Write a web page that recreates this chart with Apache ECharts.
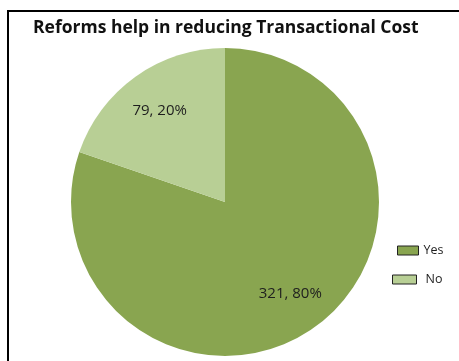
<!DOCTYPE html>
<html>
<head>
<meta charset="utf-8">
<script src="https://cdn.jsdelivr.net/npm/echarts@6/dist/echarts.min.js"></script>
<style>
  html, body { margin: 0; padding: 0; background: #fff; }
  #chart { width: 459px; height: 361px; }
</style>
</head>
<body>
<div id="chart"></div>
<script>
// Survey answers: do reforms help in reducing transactional cost?
const categories = ['Yes', 'No'];
const responses = [321, 79];
const sliceColors = ['#89a550', '#b8cf95'];

const pieData = categories.map((name, i) => ({
  name: name,
  value: responses[i],
  itemStyle: { color: sliceColors[i] }
}));

const textColor = '#1e1e1e';
const font = '"Open Sans", "Liberation Sans", sans-serif';
const center = [225, 202];
const radius = 154;

const chart = echarts.init(document.getElementById('chart'), null, { renderer: 'canvas' });

chart.setOption({
  animation: false,
  backgroundColor: '#ffffff',
  title: {
    text: 'Reforms help in reducing Transactional Cost',
    left: 28,
    top: 14,
    textStyle: { fontFamily: font, fontWeight: 'bold', fontSize: 17.5, color: '#111' }
  },
  legend: [
    {
      data: ['Yes'],
      orient: 'vertical',
      left: 392,
      top: 239,
      itemWidth: 21,
      itemHeight: 9,
      itemGap: 0,
      icon: 'rect',
      itemStyle: { borderColor: '#222', borderWidth: 1 },
      textStyle: { fontFamily: font, fontSize: 12.5, color: textColor, padding: [0, 0, 0, 0] }
    },
    {
      data: ['No'],
      orient: 'vertical',
      left: 387,
      top: 268,
      itemWidth: 24,
      itemHeight: 9,
      itemGap: 0,
      icon: 'rect',
      itemStyle: { borderColor: '#222', borderWidth: 1 },
      textStyle: { fontFamily: font, fontSize: 12.5, color: textColor, padding: [0, 0, 0, 4] }
    }
  ],
  graphic: [
    {
      type: 'polyline',
      shape: { points: [[8, 361], [8, 11], [459, 11]] },
      style: { stroke: '#000', lineWidth: 2, fill: null }
    }
  ],
  series: [
    {
      type: 'pie',
      center: center,
      radius: [0, radius],
      startAngle: 90,
      clockwise: true,
      data: pieData,
      label: { show: false },
      labelLine: { show: false },
      emphasis: { disabled: true }
    },
    {
      // transparent ring carrying the value labels further out from the centre
      type: 'pie',
      center: center,
      radius: [radius * 0.42, radius],
      startAngle: 90,
      clockwise: true,
      percentPrecision: 0,
      data: categories.map((name, i) => ({ name: name, value: responses[i] })),
      itemStyle: { color: 'rgba(0,0,0,0)' },
      silent: true,
      legendHoverLink: false,
      label: {
        show: true,
        position: 'inside',
        formatter: '{c}, {d}%',
        fontFamily: font,
        fontSize: 15,
        color: textColor
      },
      labelLine: { show: false },
      emphasis: { disabled: true }
    }
  ]
});
</script>
</body>
</html>
